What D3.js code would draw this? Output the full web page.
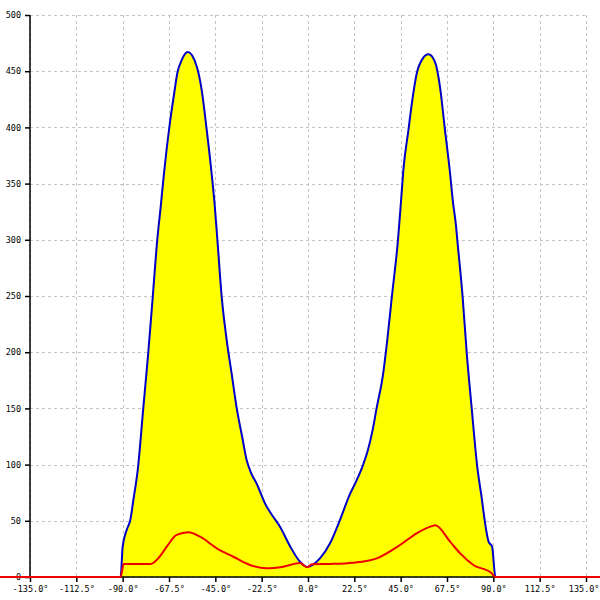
<!DOCTYPE html>
<html>
<head>
<meta charset="utf-8">
<script src="https://cdn.jsdelivr.net/npm/d3@7"></script>
<style>
  html, body { margin: 0; padding: 0; background: #fff; }
  svg { display: block; }
</style>
</head>
<body>
<svg id="chart" width="600" height="600"></svg>
<script>
// ---- data (angle in degrees, value) ----
const blueAngles = [-150, -91, -90, -88, -86.3, -84.8, -82.7, -80, -77.6, -75.4, -73.2, -71.5, -70, -68.5, -67, -65, -63.5, -61.3, -58.4, -54, -51.6, -49.2, -46.8, -45.5, -44, -41.9, -39.5, -37, -34.6, -32, -29.8, -27.5, -24.9, -20.9, -16.9, -13.6, -8.6, -3.9, -0.5, 5.8, 10.7, 15.5, 20.2, 23.6, 26.7, 29.1, 31.3, 33.3, 36.5, 38.5, 40.7, 43.7, 45.2, 46.3, 48.8, 50.4, 52.8, 55.6, 58.5, 61.7, 64.1, 66.5, 69, 70.3, 71.9, 72.5, 75.1, 77.1, 79.5, 82.2, 84.5, 85.3, 87.7, 89.4, 91, 150];
const blueValues = [0, 0, 27, 42, 50.7, 68.5, 95, 150, 199, 249, 300, 330, 358, 383, 405, 430, 448, 460, 467, 454, 433, 398, 359, 335, 300, 249, 211, 180, 150, 125, 104, 92, 83, 65.5, 53.6, 44.8, 27, 13.6, 9, 16.6, 30, 50.7, 73, 86, 99.6, 113, 130, 150, 181, 211, 249, 300, 335, 362, 398, 421, 448, 461, 465, 458, 436, 398, 359, 335, 312, 300, 249, 199, 150, 98, 68.5, 57, 31.4, 27, 0, 0];

const redAngles = [-150, -91, -89.5, -76.5, -72.5, -68.6, -63.8, -58.1, -52.4, -44.3, -36.3, -28.2, -20.1, -12, -3.9, -0.3, 1.8, 10.7, 22, 33.4, 44.7, 52.8, 60.9, 61.8, 69, 73.9, 80.3, 89.2, 91, 150];
const redValues = [0, 0, 11.6, 11.6, 17, 27, 37.4, 39.8, 35.9, 25.5, 18, 10.7, 7.7, 9.2, 12.5, 8.6, 11.3, 11.6, 12.7, 16.6, 28.5, 38.9, 45.7, 46, 31.4, 21, 10.7, 3.3, 0, 0];

const xTicks = [-135, -112.5, -90, -67.5, -45, -22.5, 0, 22.5, 45, 67.5, 90, 112.5, 135];
const yTicks = [0, 50, 100, 150, 200, 250, 300, 350, 400, 450, 500];

// ---- layout ----
const svg = d3.select("#chart");
const x = d3.scaleLinear().domain([-135, 135]).range([30, 586]);
const y = d3.scaleLinear().domain([0, 500]).range([577, 15]);

const blue = blueAngles.map((a, i) => [a, blueValues[i]]);
const red = redAngles.map((a, i) => [a, redValues[i]]);

// grid
const grid = svg.append("g").attr("stroke", "#c4c4c4").attr("stroke-width", 1).attr("stroke-dasharray", "3,3");
grid.selectAll("line.v").data(xTicks).join("line")
  .attr("x1", d => Math.round(x(d)) + 0.5).attr("x2", d => Math.round(x(d)) + 0.5)
  .attr("y1", y(500)).attr("y2", y(0));
grid.selectAll("line.h").data(yTicks).join("line")
  .attr("x1", x(-135)).attr("x2", x(135))
  .attr("y1", d => Math.round(y(d)) + 0.5).attr("y2", d => Math.round(y(d)) + 0.5);

// area fill
const curve = d3.curveMonotoneX;
const area = d3.area().curve(curve).x(d => x(d[0])).y0(y(0)).y1(d => y(d[1]));
svg.append("path").datum(blue).attr("d", area).attr("fill", "#ffff00");

// axes
const fontFam = "'DejaVu Sans Mono', monospace";
const yAxis = svg.append("g").attr("transform", `translate(${x(-135)},0)`)
  .call(d3.axisLeft(y).tickValues(yTicks).tickSize(5).tickPadding(4).tickFormat(d3.format("d")));
const xAxis = svg.append("g").attr("transform", `translate(0,${y(0)})`)
  .call(d3.axisBottom(x).tickValues(xTicks).tickSize(5).tickPadding(4).tickFormat(d => d.toFixed(1) + "°"));
[xAxis, yAxis].forEach(g => {
  g.select(".domain").attr("stroke", "#000").attr("stroke-width", 1.5);
  g.selectAll(".tick line").attr("stroke", "#000").attr("stroke-width", 1.5);
  g.selectAll("text").attr("font-family", fontFam).attr("font-size", 8.5).attr("fill", "#000");
});
yAxis.select(".domain").attr("d", `M0,${y(500)}V${y(0)}`);
xAxis.select(".domain").attr("d", `M${x(-135)},0H${x(135)}`);
// keep the last x label inside the picture
xAxis.selectAll(".tick").filter(d => d === 135).select("text")
  .attr("text-anchor", "end").attr("x", 599 - x(135));

// lines
const line = d3.line().curve(curve).x(d => x(d[0])).y(d => y(d[1]));
svg.append("path").datum(blue).attr("d", line).attr("fill", "none")
  .attr("stroke", "#0000c8").attr("stroke-width", 2).attr("stroke-linejoin", "round");
svg.append("path").datum(red).attr("d", line).attr("fill", "none")
  .attr("stroke", "#ee0000").attr("stroke-width", 2).attr("stroke-linejoin", "round");
</script>
</body>
</html>
